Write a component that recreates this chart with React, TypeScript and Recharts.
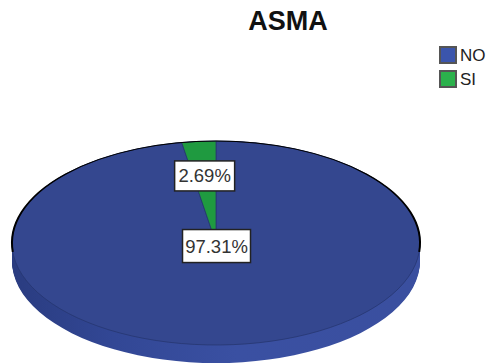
import { Cell, Pie, PieChart } from 'recharts';

const CATEGORIES = ['NO', 'SI'];
const SHARES = [97.31, 2.69];
const SHARE_LABELS = ['97.31%', '2.69%'];
const TOP_COLORS = ['#34478f', '#1f9a40'];
const LEGEND_COLORS = ['#3b55ac', '#2bb14c'];

// how far out along the slice each percentage box sits
const LABEL_RADIUS = [0.03, 0.66];
const LABEL_WIDTHS = [68, 60];

// vertical squash that turns the round pie into a tilted disc
const TILT = 0.5;
const RADIUS = 204;
const DEPTH_PX = 18;
const DEPTH_LAYERS = Array.from({ length: DEPTH_PX + 1 }, (_, i) => DEPTH_PX - i);

const CX = 220;
const CY = 210;

const data = CATEGORIES.map((name, i) => ({ name, value: SHARES[i] }));
const rimData = [{ name: 'rim', value: 1 }];

function renderShareLabel(props: any) {
  const { cx, cy, midAngle, index } = props;
  const r = RADIUS * LABEL_RADIUS[index];
  const rad = (midAngle * Math.PI) / 180;
  const x = cx + r * Math.cos(rad);
  const y = cy - r * Math.sin(rad);
  const w = LABEL_WIDTHS[index];
  const h = index === 0 ? 33 : 30;
  return (
    <g transform={`translate(${x},${y}) scale(1,${1 / TILT})`}>
      <rect x={-w / 2} y={-h / 2} width={w} height={h} fill="#fff" stroke="#222" strokeWidth={1.5} />
      <text
        x={0}
        y={6.5}
        textAnchor="middle"
        fontFamily="Liberation Sans, Arial, sans-serif"
        fontSize={18.5}
        fill="#333"
      >
        {SHARE_LABELS[index]}
      </text>
    </g>
  );
}

export default function App() {
  return (
    <div
      style={{
        position: 'absolute',
        left: 0,
        top: 0,
        width: 491,
        height: 364,
        overflow: 'hidden',
        background: '#fff',
        fontFamily: 'Liberation Sans, Arial, sans-serif',
      }}
    >
      <div
        style={{
          position: 'absolute',
          left: 188,
          top: 6,
          width: 200,
          textAlign: 'center',
          fontSize: 27,
          fontWeight: 700,
          color: '#111',
        }}
      >
        ASMA
      </div>

      {CATEGORIES.map((name, i) => (
        <div key={name} style={{ position: 'absolute', left: 439, top: 46 + i * 24, height: 18, display: 'flex' }}>
          <div
            style={{
              width: 14,
              height: 14,
              background: LEGEND_COLORS[i],
              border: '2px solid #555',
            }}
          />
          <span style={{ marginLeft: 3, fontSize: 17, lineHeight: '20px', color: '#222' }}>{name}</span>
        </div>
      ))}

      <div
        style={{
          position: 'absolute',
          left: -4,
          top: 243 - CY * TILT,
          transform: `scaleY(${TILT})`,
          transformOrigin: '0 0',
        }}
      >
        <PieChart width={440} height={480} margin={{ top: 0, right: 0, bottom: 0, left: 0 }}>
          <defs>
            <linearGradient id="sideBlue" x1="0" y1="0" x2="1" y2="0">
              <stop offset="0%" stopColor="#2a3c80" />
              <stop offset="25%" stopColor="#324795" />
              <stop offset="55%" stopColor="#3a50a2" />
              <stop offset="100%" stopColor="#3a4f9f" />
            </linearGradient>
          </defs>

          {/* side wall: the same disc stacked downwards */}
          {DEPTH_LAYERS.map((d) => (
            <Pie
              key={d}
              data={rimData}
              dataKey="value"
              cx={CX}
              cy={CY + d / TILT}
              outerRadius={RADIUS}
              startAngle={90}
              endAngle={-270}
              fill="url(#sideBlue)"
              stroke="none"
              isAnimationActive={false}
            />
          ))}

          <Pie
            data={data}
            dataKey="value"
            cx={CX}
            cy={CY}
            outerRadius={RADIUS}
            startAngle={90}
            endAngle={-270}
            stroke="#26356f"
            strokeWidth={1}
            labelLine={false}
            label={renderShareLabel}
            isAnimationActive={false}
          >
            {data.map((d, i) => (
              <Cell key={d.name} fill={TOP_COLORS[i]} />
            ))}
          </Pie>

          {/* black edge along the far side of the disc */}
          <Pie
            data={rimData}
            dataKey="value"
            cx={CX}
            cy={CY}
            innerRadius={RADIUS}
            outerRadius={RADIUS}
            startAngle={185}
            endAngle={-5}
            fill="none"
            stroke="#000"
            strokeWidth={2}
            isAnimationActive={false}
          />
        </PieChart>
      </div>
    </div>
  );
}
